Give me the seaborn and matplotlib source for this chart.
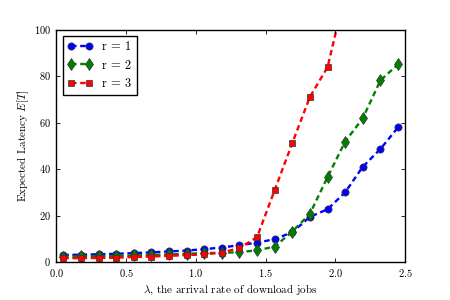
import matplotlib
matplotlib.use('Agg')
import matplotlib.pyplot as plt
import seaborn as sns
import pandas as pd

# arrival rates (lambda)
lam = [0.05, 0.176, 0.303, 0.429, 0.555, 0.682, 0.808, 0.934, 1.061, 1.187,
       1.313, 1.439, 1.566, 1.692, 1.818, 1.945, 2.071, 2.197, 2.324, 2.45]

# expected latency E[T] for each replication factor
lat_r1 = [3.0, 3.1, 3.3, 3.5, 3.8, 4.1, 4.5, 4.9, 5.5, 6.2,
          7.2, 8.3, 9.8, 12.8, 19.4, 22.7, 30.0, 41.0, 48.7, 58.0]
lat_r2 = [2.3, 2.4, 2.5, 2.6, 2.8, 3.0, 3.2, 3.5, 3.8, 3.9,
          4.2, 5.0, 6.6, 13.1, 20.7, 36.6, 51.9, 61.9, 78.3, 85.2]
lat_r3 = [1.6, 1.6, 1.7, 1.8, 2.1, 2.3, 2.6, 2.9, 3.3, 4.0,
          6.0, 10.6, 31.0, 51.2, 71.1, 84.0, 116.0]

plt.style.use('classic')
plt.rcParams['font.family'] = ['cmr10', 'DejaVu Serif']
plt.rcParams['mathtext.fontset'] = 'cm'
plt.rcParams['axes.formatter.use_mathtext'] = True
plt.rcParams['font.size'] = 7.5
plt.rcParams['lines.scale_dashes'] = False

fig = plt.figure(figsize=(4.5, 3), dpi=100)
ax = fig.add_axes([0.125, 0.127, 0.775, 0.773])

series = [
    ('r = 1', lam, lat_r1, 'b', 'o', 5.2),
    ('r = 2', lam, lat_r2, 'g', 'd', 6.0),
    ('r = 3', lam[:len(lat_r3)], lat_r3, 'r', 's', 4.8),
]
for name, xs, ys, col, mk, ms in series:
    df = pd.DataFrame({'lam': xs, 'lat': ys})
    sns.lineplot(data=df, x='lam', y='lat', ax=ax, color=col, marker=mk,
                 markersize=ms, markeredgecolor='0.2', markeredgewidth=0.5,
                 linewidth=1.7, linestyle=(0, (4, 2.6)), label=name)

ax.set_xlim(0, 2.5)
ax.set_ylim(0, 100)
ax.set_xticks([0.0, 0.5, 1.0, 1.5, 2.0, 2.5])
ax.set_yticks([0, 20, 40, 60, 80, 100])
ax.set_xlabel(r'$\lambda$, the arrival rate of download jobs', fontsize=8, labelpad=2)
ax.set_ylabel(r'Expected Latency $E[T]$', fontsize=8, labelpad=2)
ax.tick_params(length=3, width=0.6, labelsize=7.5)
for s in ax.spines.values():
    s.set_linewidth(1.0)

leg = ax.legend(loc='upper left', numpoints=2, fontsize=9, fancybox=False,
                borderpad=0.4, handlelength=2.0, labelspacing=0.5)
leg.get_frame().set_edgecolor('black')
leg.get_frame().set_linewidth(1.0)

fig.savefig('out.png', dpi=100)
